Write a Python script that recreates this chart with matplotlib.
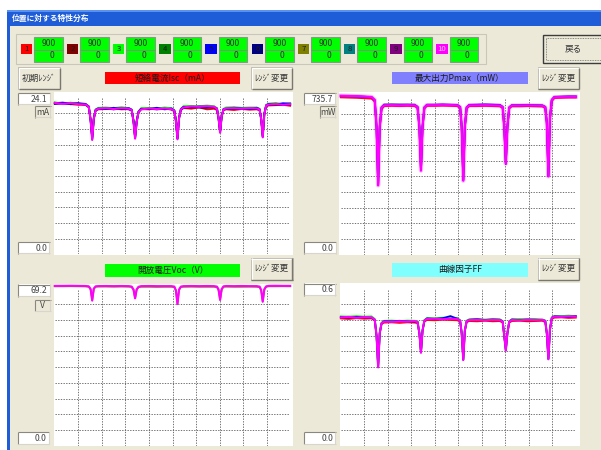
import matplotlib
matplotlib.use("Agg")
import matplotlib.pyplot as plt
from matplotlib.patches import Rectangle

plt.rcParams["font.family"] = ["Noto Sans CJK JP", "DejaVu Sans"]

# ---------------- data ----------------
WINDOW_TITLE = "位置に対する特性分布"
SERIES_IDS = ["1", "2", "3", "4", "5", "6", "7", "8", "9", "10"]
SERIES_COLORS = ["#FF0000", "#800000", "#00FF00", "#008000", "#0000FF",
                 "#000080", "#808000", "#008080", "#800080", "#FF00FF"]
START_POS = [900, 900, 900, 900, 900, 900, 900, 900, 900, 900]
END_POS = [0, 0, 0, 0, 0, 0, 0, 0, 0, 0]

POS_MM = [0, 30, 60, 90, 118, 130, 137, 143, 149, 156,
          166, 195, 225, 255, 283, 294, 301, 307, 313, 320,
          330, 360, 390, 420, 446, 457, 463, 469, 475, 482,
          492, 522, 552, 582, 609, 620, 626, 632, 638, 645,
          655, 685, 715, 745, 772, 783, 789, 795, 801, 808,
          818, 845, 872, 900]

ISC_MAX = 24.1
ISC_1 = [23.2, 23.3, 23.1, 23.0, 23.0, 22.6, 20.9, 18.1, 21.0, 22.1,
         22.3, 22.35, 22.45, 22.3, 22.35, 22.15, 20.6, 18.2, 20.6, 21.8,
         22.35, 22.3, 22.5, 22.4, 22.3, 22.0, 20.7, 18.1, 21.1, 22.2,
         22.5, 22.4, 22.6, 22.3, 22.4, 22.2, 20.9, 18.9, 21.3, 22.2,
         22.3, 22.2, 22.35, 22.25, 22.3, 22.2, 20.9, 18.3, 21.6, 22.8,
         22.9, 22.95, 23.0, 22.85]
ISC_3 = [23.4, 23.2, 23.35, 23.2, 23.1, 22.8, 20.7, 17.9, 20.9, 22.3,
         22.55, 22.6, 22.5, 22.65, 22.5, 22.3, 20.5, 18.0, 20.5, 22.0,
         22.5, 22.55, 22.45, 22.6, 22.5, 22.2, 20.6, 17.9, 21.0, 22.4,
         22.8, 22.85, 22.8, 22.9, 22.8, 22.5, 21.1, 18.9, 21.3, 22.4,
         22.6, 22.65, 22.55, 22.6, 22.6, 22.4, 20.9, 18.2, 21.6, 23.0,
         23.2, 23.3, 23.1, 23.25]
ISC_5 = [23.25, 23.35, 23.2, 23.25, 23.15, 22.75, 20.6, 17.8, 20.9, 22.25,
         22.45, 22.35, 22.55, 22.4, 22.5, 22.25, 20.5, 17.9, 20.4, 21.95,
         22.4, 22.35, 22.55, 22.3, 22.45, 22.15, 20.6, 17.8, 21.0, 22.35,
         22.7, 22.6, 22.75, 22.7, 22.6, 22.45, 21.1, 18.8, 21.3, 22.35,
         22.4, 22.55, 22.45, 22.35, 22.55, 22.35, 20.9, 18.1, 21.6, 22.95,
         23.15, 23.05, 23.25, 23.2]
ISC_6 = [23.15, 23.2, 23.1, 23.2, 23.0, 22.65, 20.5, 17.7, 20.8, 22.15,
         22.35, 22.45, 22.3, 22.45, 22.3, 22.15, 20.4, 17.9, 20.4, 21.9,
         22.35, 22.4, 22.3, 22.4, 22.3, 22.05, 20.5, 17.8, 20.9, 22.25,
         22.55, 22.65, 22.6, 22.55, 22.65, 22.35, 20.9, 18.8, 21.2, 22.25,
         22.35, 22.4, 22.35, 22.45, 22.35, 22.25, 20.8, 18.1, 21.5, 22.85,
         23.0, 23.1, 22.95, 23.05]
ISC_10 = [23.3, 23.15, 23.25, 23.1, 23.05, 22.7, 20.6, 17.6, 20.8, 22.2,
          22.4, 22.5, 22.35, 22.5, 22.4, 22.2, 20.4, 17.8, 20.3, 21.9,
          22.3, 22.45, 22.35, 22.45, 22.35, 22.1, 20.5, 17.7, 20.9, 22.3,
          22.6, 22.75, 22.7, 22.8, 22.7, 22.4, 21.0, 18.7, 21.2, 22.3,
          22.45, 22.5, 22.4, 22.5, 22.45, 22.3, 20.8, 18.0, 21.5, 22.9,
          23.05, 23.15, 23.0, 23.1]

PMAX_MAX = 735.7
PMAX_1 = [738, 737, 736, 734, 732, 718, 590, 330, 590, 682,
          697, 698, 697, 698, 697, 688, 595, 398, 595, 686,
          698, 698, 699, 698, 697, 688, 595, 352, 595, 686,
          697, 697, 698, 697, 696, 688, 595, 430, 595, 686,
          696, 696, 697, 696, 695, 688, 615, 372, 635, 720,
          735, 736, 737, 737]
PMAX_5 = [745, 744, 743, 741, 739, 725, 600, 327, 600, 690,
          702, 703, 702, 703, 702, 693, 600, 396, 600, 690,
          703, 703, 704, 703, 702, 693, 600, 349, 600, 690,
          703, 704, 705, 704, 703, 693, 600, 425, 600, 690,
          701, 701, 702, 701, 700, 693, 621, 369, 641, 726,
          740, 741, 742, 742]
PMAX_8 = [744, 743, 742, 741, 739, 724, 598, 328, 598, 692,
          705, 706, 705, 705, 704, 694, 602, 396, 602, 692,
          704, 704, 705, 704, 703, 694, 602, 350, 602, 692,
          703, 703, 704, 703, 702, 694, 602, 429, 602, 692,
          702, 702, 703, 702, 701, 694, 622, 370, 642, 727,
          741, 742, 743, 743]
PMAX_10 = [746, 745, 744, 742, 740, 726, 600, 325, 600, 690,
           701, 702, 701, 702, 701, 692, 600, 394, 600, 690,
           702, 702, 703, 702, 701, 692, 600, 347, 600, 690,
           701, 701, 702, 701, 700, 692, 600, 427, 600, 690,
           700, 700, 701, 700, 699, 692, 620, 367, 640, 725,
           739, 740, 741, 741]

VOC_MAX = 69.2
VOC_7 = [70.2, 70.2, 70.25, 70.2, 70.15, 70.0, 68.8, 64.1, 69.0, 70.0,
         70.1, 70.1, 70.05, 70.1, 70.05, 69.9, 68.6, 65.0, 68.7, 69.8,
         70.0, 70.0, 69.95, 70.0, 70.0, 69.8, 68.3, 62.6, 68.6, 69.9,
         70.0, 70.05, 70.0, 70.0, 70.0, 69.8, 68.6, 64.3, 68.8, 70.0,
         70.05, 70.0, 70.0, 70.05, 70.0, 69.8, 68.4, 63.6, 68.7, 70.0,
         70.2, 70.2, 70.25, 70.2]
VOC_10 = [70.4, 70.4, 70.45, 70.4, 70.35, 70.2, 69.0, 63.9, 69.2, 70.2,
          70.3, 70.35, 70.3, 70.35, 70.3, 70.1, 68.8, 64.9, 68.9, 70.0,
          70.3, 70.35, 70.3, 70.3, 70.3, 70.1, 68.5, 62.4, 68.8, 70.1,
          70.3, 70.35, 70.3, 70.35, 70.3, 70.1, 68.8, 64.2, 69.0, 70.2,
          70.35, 70.3, 70.35, 70.3, 70.3, 70.1, 68.6, 63.4, 68.9, 70.2,
          70.4, 70.45, 70.4, 70.4]

FF_MAX = 0.6
FF_1 = [0.486, 0.484, 0.487, 0.485, 0.486, 0.478, 0.418, 0.302, 0.428, 0.465,
        0.470, 0.471, 0.469, 0.471, 0.470, 0.468, 0.428, 0.358, 0.438, 0.474,
        0.480, 0.479, 0.481, 0.480, 0.479, 0.474, 0.428, 0.330, 0.438, 0.472,
        0.476, 0.475, 0.477, 0.475, 0.476, 0.470, 0.418, 0.366, 0.428, 0.470,
        0.476, 0.477, 0.475, 0.476, 0.477, 0.472, 0.428, 0.333, 0.443, 0.484,
        0.489, 0.490, 0.488, 0.489]
FF_3 = [0.494, 0.493, 0.495, 0.493, 0.494, 0.484, 0.421, 0.301, 0.431, 0.470,
        0.477, 0.478, 0.476, 0.478, 0.477, 0.474, 0.431, 0.357, 0.441, 0.480,
        0.488, 0.487, 0.489, 0.487, 0.488, 0.480, 0.431, 0.329, 0.441, 0.478,
        0.483, 0.484, 0.482, 0.484, 0.483, 0.476, 0.421, 0.365, 0.431, 0.476,
        0.483, 0.484, 0.483, 0.484, 0.482, 0.478, 0.431, 0.332, 0.446, 0.490,
        0.496, 0.495, 0.497, 0.495]
FF_5 = [0.491, 0.489, 0.492, 0.490, 0.489, 0.481, 0.419, 0.300, 0.429, 0.467,
        0.476, 0.475, 0.477, 0.475, 0.474, 0.473, 0.429, 0.356, 0.439, 0.477,
        0.486, 0.484, 0.487, 0.495, 0.485, 0.477, 0.429, 0.328, 0.439, 0.475,
        0.481, 0.483, 0.480, 0.482, 0.481, 0.475, 0.419, 0.364, 0.429, 0.473,
        0.482, 0.480, 0.482, 0.481, 0.480, 0.477, 0.429, 0.331, 0.444, 0.489,
        0.494, 0.493, 0.492, 0.495]
FF_10 = [0.490, 0.492, 0.489, 0.491, 0.490, 0.482, 0.420, 0.299, 0.430, 0.468,
         0.474, 0.473, 0.475, 0.474, 0.476, 0.472, 0.430, 0.355, 0.440, 0.478,
         0.484, 0.485, 0.483, 0.485, 0.484, 0.478, 0.430, 0.327, 0.440, 0.476,
         0.480, 0.481, 0.479, 0.481, 0.480, 0.474, 0.420, 0.363, 0.430, 0.474,
         0.480, 0.479, 0.481, 0.480, 0.481, 0.476, 0.430, 0.330, 0.445, 0.488,
         0.493, 0.492, 0.494, 0.493]

POS_RANGE = 900

# ---------------- figure ----------------
W, H = 601, 450
fig = plt.figure(figsize=(W / 100, H / 100), dpi=100)
fig.patch.set_facecolor("white")
bg = fig.add_axes([0, 0, 1, 1])
bg.set_xlim(0, W)
bg.set_ylim(H, 0)
bg.axis("off")

FACE = "#ECE9D8"
FS = 6.2


def rect(x0, y0, x1, y1, fc, ec="none", lw=0.8, z=1, ls="-"):
    bg.add_patch(Rectangle((x0, y0), x1 - x0, y1 - y0, facecolor=fc,
                           edgecolor=ec, lw=lw, zorder=z, linestyle=ls))


def hl(x0, x1, y, c, lw=0.8, z=3):
    bg.plot([x0, x1], [y, y], color=c, lw=lw, zorder=z, solid_capstyle="butt")


def vl(x, y0, y1, c, lw=0.8, z=3):
    bg.plot([x, x], [y0, y1], color=c, lw=lw, zorder=z, solid_capstyle="butt")


def button(x0, y0, x1, y1, label):
    rect(x0, y0, x1, y1, FACE, "#B8B6AA", 0.6, z=2)
    hl(x0 + 0.5, x1 - 0.5, y0 + 0.8, "white", 0.8)
    vl(x0 + 0.8, y0 + 0.5, y1 - 0.5, "white", 0.8)
    hl(x0 + 0.5, x1, y1 - 0.4, "#7A786E", 1.0)
    vl(x1 - 0.4, y0 + 0.5, y1, "#7A786E", 1.0)
    bg.text((x0 + x1) / 2, (y0 + y1) / 2, label, ha="center", va="center",
            fontsize=FS, color="#333333", zorder=5)


def sunken(x0, y0, x1, y1, label, fc="white", ha="right"):
    rect(x0, y0, x1, y1, fc, "none", z=2)
    hl(x0, x1, y0 + 0.4, "#8A887E", 0.8)
    vl(x0 + 0.4, y0, y1, "#8A887E", 0.8)
    hl(x0, x1, y1 - 0.4, "#D8D6CC", 0.8)
    vl(x1 - 0.4, y0, y1, "#D8D6CC", 0.8)
    if ha == "right":
        tx = x1 - 2.5
    else:
        tx = (x0 + x1) / 2
    bg.text(tx, (y0 + y1) / 2 + 0.3, label, ha=ha, va="center",
            fontsize=FS, color="#444444", zorder=5)


# window chrome
rect(7, 10, W + 1, H + 1, FACE, z=0)
rect(7, 10, W + 1, 25.5, "#1E5CD8", z=1)
rect(7, 10, W + 1, 12, "#5A92F2", z=1)
rect(7, 25.5, 10, H + 1, "#1E5CD8", z=1)
bg.text(12, 18, WINDOW_TITLE, ha="left", va="center", fontsize=5.6,
        color="white", fontweight="bold", zorder=5)

# group box with series legend
rect(16, 33.5, 486, 64, "none", "#C9C7BA", 0.8, z=2)
for i, (sid, col) in enumerate(zip(SERIES_IDS, SERIES_COLORS)):
    lx = 20.5 + 46.2 * i
    rect(lx, 44.3, lx + 11.5, 53.5, col, z=3)
    tc = "#FFC8FF" if sid == "10" else "#1A1A1A"
    bg.text(lx + 5.8, 49.2, sid, ha="center", va="center", fontsize=5.6,
            color=tc, zorder=5)
    bx = 34 + 46.2 * i
    rect(bx, 37.3, bx + 28.5, 61.7, "#00FF00", "#7FA07F", 0.8, z=3)
    hl(bx, bx + 28.5, 49.5, "#6E9E6E", 0.8, z=4)
    bg.text(bx + 14.3, 43.6, str(START_POS[i]), ha="center", va="center",
            fontsize=FS, color="#333333", zorder=5)
    bg.text(bx + 17.5, 55.8, str(END_POS[i]), ha="center", va="center",
            fontsize=FS, color="#333333", zorder=5)

# back button
rect(543, 34.5, 604, 62.5, FACE, "#3C3C3C", 1.0, z=2)
rect(546, 37.5, 604, 59.5, "none", "#6A6A6A", 0.6, z=3, ls=(0, (1, 1)))
bg.text(573, 48.5, "戻る", ha="center", va="center", fontsize=FS,
        color="#333333", zorder=5)

PANELS = [
    dict(title="短絡電流Isc（mA）", color="#FF0000", ymax=ISC_MAX, maxlabel="24.1",
         unit="mA", series=[(0, ISC_1), (2, ISC_3), (4, ISC_5), (5, ISC_6), (9, ISC_10)],
         halo=False,
         label=(105, 71.5, 240, 84), reset=(18, 67, 60, 89), rng=(251, 67, 292, 89),
         maxbox=(18, 93, 50, 104.5), unitbox=(35, 106, 50.5, 117.5),
         zerobox=(18, 242, 49.5, 253.5), white=(54, 92, 293, 254.5),
         data=(54.8, 97.7, 290.2, 254.4)),
    dict(title="最大出力Pmax（mW）", color="#8080FF", ymax=PMAX_MAX, maxlabel="735.7",
         unit="mW", series=[(0, PMAX_1), (7, PMAX_8), (4, PMAX_5), (9, PMAX_10)],
         halo=True,
         label=(391.7, 71.5, 527.7, 84), reset=None, rng=(537.7, 67, 579.3, 89),
         maxbox=(304, 93, 335.7, 104.5), unitbox=(320, 106, 335.7, 117.5),
         zerobox=(304, 242, 336, 253.5), white=(339, 92, 580, 254.5),
         data=(340.8, 97.9, 575.8, 254.6)),
    dict(title="開放電圧Voc（V）", color="#00FF00", ymax=VOC_MAX, maxlabel="69.2",
         unit="V", series=[(6, VOC_7), (9, VOC_10)],
         halo=False,
         label=(105, 263.5, 240, 277), reset=None, rng=(250.7, 257.7, 292.7, 280),
         maxbox=(18, 284.3, 50, 296.7), unitbox=(35, 299.5, 50.5, 311),
         zerobox=(17.7, 431.7, 49.3, 444), white=(54, 284, 293, 446),
         data=(54.8, 288.6, 290.2, 445.7)),
    dict(title="曲線因子FF", color="#80FFFF", ymax=FF_MAX, maxlabel="0.6",
         unit=None, series=[(0, FF_1), (2, FF_3), (4, FF_5), (9, FF_10)],
         halo=False,
         label=(391.7, 262.5, 527.7, 276.5), reset=None, rng=(537.7, 257.7, 579.3, 280),
         maxbox=(304, 283.3, 335.7, 295.7), unitbox=None,
         zerobox=(304, 431.7, 335.5, 444), white=(340, 283, 580, 446),
         data=(340.8, 288.6, 575.8, 445.7)),
]

for p in PANELS:
    x0, y0, x1, y1 = p["label"]
    rect(x0, y0, x1, y1, p["color"], z=2)
    bg.text((x0 + x1) / 2, (y0 + y1) / 2 + 0.2, p["title"], ha="center",
            va="center", fontsize=FS, color="#1A1A1A", zorder=5)
    if p["reset"]:
        button(*p["reset"], "初期ﾚﾝｼﾞ")
    button(*p["rng"], "ﾚﾝｼﾞ変更")
    sunken(*p["maxbox"], p["maxlabel"])
    if p["unitbox"]:
        sunken(*p["unitbox"], p["unit"], fc=FACE, ha="center")
    sunken(*p["zerobox"], "0.0")
    wx0, wy0, wx1, wy1 = p["white"]
    rect(wx0, wy0, wx1, wy1, "white", z=1)

    dx0, dy0, dx1, dy1 = p["data"]
    ax = fig.add_axes([dx0 / W, 1 - dy1 / H, (dx1 - dx0) / W, (dy1 - dy0) / H])
    ax.set_xlim(0, POS_RANGE)
    ax.set_ylim(0, p["ymax"])
    ax.patch.set_alpha(0)
    ax.set_axis_off()
    for k in range(1, 10):
        ax.axvline(POS_RANGE * k / 10, color="#5A5A5A", lw=0.6,
                   ls=(0, (1.6, 1.6)), zorder=1)
        ax.axhline(p["ymax"] * k / 10, color="#5A5A5A", lw=0.6,
                   ls=(0, (1.6, 1.6)), zorder=1)
    for idx, vals in p["series"]:
        is_top = idx == 9
        if is_top and p["halo"]:
            ax.plot(POS_MM, vals, color=SERIES_COLORS[idx], lw=3.0, alpha=0.3,
                    zorder=2.5, clip_on=False, solid_joinstyle="round")
        ax.plot(POS_MM, vals, color=SERIES_COLORS[idx],
                lw=1.5 if is_top else 1.3, zorder=3 if is_top else 2,
                clip_on=False, solid_joinstyle="round")

fig.savefig("out.png", dpi=100, facecolor="white")
